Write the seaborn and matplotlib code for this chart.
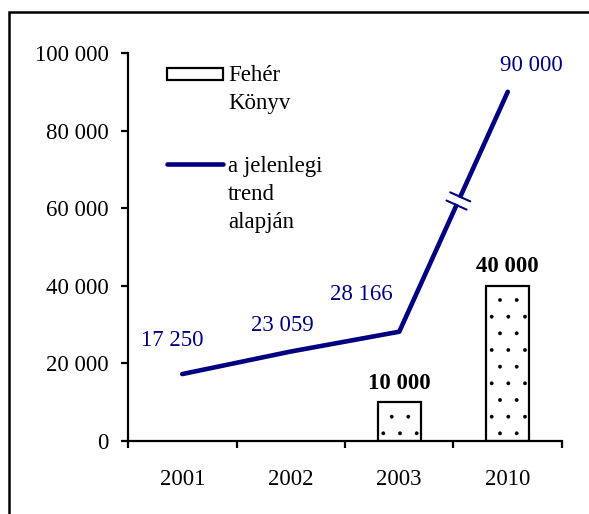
import numpy as np
import matplotlib
matplotlib.use("Agg")
import matplotlib.pyplot as plt
import seaborn as sns
from matplotlib.patches import Rectangle
from matplotlib.lines import Line2D
from matplotlib.transforms import IdentityTransform

# ---- data ----
categories = ["2001", "2002", "2003", "2010"]
trend_values = [17250, 23059, 28166, 90000]
white_book_categories = ["2003", "2010"]
white_book_values = [10000, 40000]
y_ticks = [0, 20000, 40000, 60000, 80000, 100000]
legend_labels = ["Fehér\nKönyv", "a jelenlegi\ntrend\nalapján"]

# ---- style ----
NAVY = "#000080"
FS = 16.5
W, H = 589, 514


def fmt(v):
    return f"{v:,}".replace(",", " ")


sns.set_theme(style="white")
plt.rcParams["font.family"] = ["Liberation Serif", "DejaVu Serif"]
plt.rcParams["hatch.linewidth"] = 0.3
plt.rcParams["hatch.color"] = "#444444"

fig = plt.figure(figsize=(W / 100, H / 100), dpi=100)
fig.patch.set_facecolor("white")
ax = fig.add_axes([128 / W, 1 - 441 / H, (562 - 128) / W, (441 - 53) / H])
ax.set_facecolor("white")

sns.barplot(x=white_book_categories, y=white_book_values, order=categories,
            width=0.4, color="white", saturation=1, edgecolor="black",
            linewidth=1.6, hatch=".", ax=ax)
for p in ax.patches:
    p.set_hatch_linewidth(0.3) if hasattr(p, "set_hatch_linewidth") else None
sns.lineplot(x=categories, y=trend_values, color=NAVY, linewidth=3.3,
             sort=False, ax=ax)

ax.set_xlim(-0.5, len(categories) - 0.5)
ax.set_ylim(y_ticks[0], y_ticks[-1])
ax.set_yticks(y_ticks)
ax.set_yticklabels([fmt(v) for v in y_ticks], fontsize=FS, color="black")
ax.set_xticks(range(len(categories)))
ax.set_xticklabels(categories, fontsize=FS, color="black")
ax.set_xticks(np.arange(len(categories) + 1) - 0.5, minor=True)
ax.tick_params(axis="x", which="major", length=0, pad=20)
ax.tick_params(axis="x", which="minor", bottom=True, direction="out",
               length=5, width=1.6, color="black")
ax.tick_params(axis="y", which="major", left=True, direction="out",
               length=5, width=1.6, color="black", pad=9)
ax.set_xlabel("")
ax.set_ylabel("")
for s in ["top", "right"]:
    ax.spines[s].set_visible(False)
for s in ["left", "bottom"]:
    ax.spines[s].set_color("black")
    ax.spines[s].set_linewidth(1.6)
ax.grid(False)

# line labels
line_offsets = [(-10, 34), (-8, 26), (-38, 37), (24, 26)]  # px
for i, (v, off) in enumerate(zip(trend_values, line_offsets)):
    ax.annotate(fmt(v), (i, v), xytext=(off[0] * 0.72, off[1] * 0.72),
                textcoords="offset points", ha="center", va="center",
                color=NAVY, fontsize=FS)

# bar labels
for c, v in zip(white_book_categories, white_book_values):
    ax.annotate(fmt(v), (categories.index(c), v), xytext=(0, 6),
                textcoords="offset points", ha="center", va="bottom",
                color="black", fontsize=FS, fontweight="bold")

# break marks on the last segment
fig.canvas.draw()
p0 = ax.transData.transform((2, trend_values[2]))
p1 = ax.transData.transform((3, trend_values[3]))
d = p1 - p0
u = d / np.hypot(*d)
v = np.array([u[1], -u[0]])
c = p0 + 0.545 * d
gap = np.array([c - 3.5 * u, c + 3.5 * u])
fig.add_artist(Line2D(gap[:, 0], gap[:, 1], color="white", linewidth=6,
                      transform=IdentityTransform(), solid_capstyle="butt"))
for s in (-4.5, 4.5):
    m = c + s * u
    seg = np.array([m - 11 * v, m + 11 * v])
    fig.add_artist(Line2D(seg[:, 0], seg[:, 1], color=NAVY, linewidth=1.5,
                          transform=IdentityTransform()))

# manual legend
leg_patch = Rectangle((167 / W, 1 - 80 / H), 56 / W, 12 / H,
                      transform=fig.transFigure, facecolor="white",
                      edgecolor="black", linewidth=1.6, hatch=".")
fig.add_artist(leg_patch)
fig.text(228 / W, 1 - 65 / H, legend_labels[0], ha="left", va="top",
         fontsize=FS, linespacing=1.45, color="black")
fig.add_artist(Line2D([167 / W, 223 / W], [1 - 164 / H, 1 - 164 / H],
                      color=NAVY, linewidth=3.3, transform=fig.transFigure))
fig.text(228 / W, 1 - 156 / H, legend_labels[1], ha="left", va="top",
         fontsize=FS, linespacing=1.45, color="black")

# outer frame
fig.add_artist(Rectangle((9 / W, -0.1), 1.2, (1 - 12 / H) + 0.1,
                         transform=fig.transFigure, fill=False,
                         edgecolor="black", linewidth=1.8))

fig.savefig("out.png", dpi=100)
